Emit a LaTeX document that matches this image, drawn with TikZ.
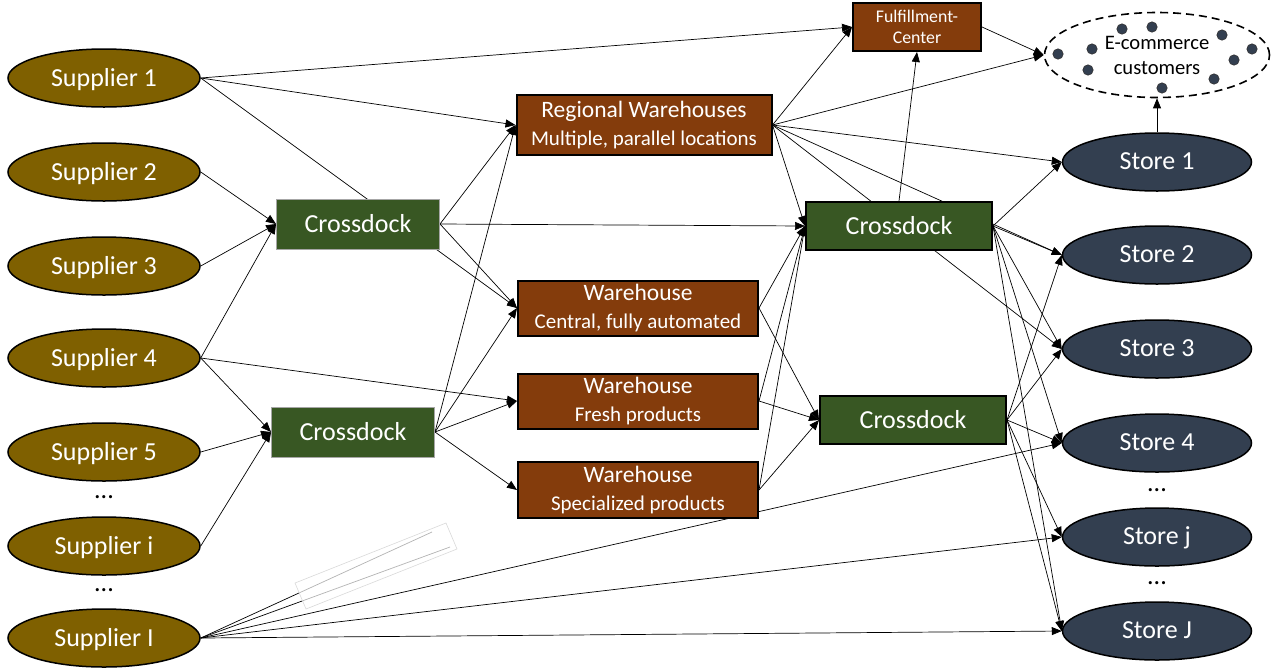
\documentclass[tikz,border=0pt]{standalone}
\usepackage{fontspec}
\setmainfont{Carlito}
\usetikzlibrary{arrows.meta,shapes.geometric,backgrounds}
\definecolor{Supp}{RGB}{127,96,0}
\definecolor{Dock}{RGB}{56,87,35}
\definecolor{Ware}{RGB}{132,60,12}
\definecolor{Shop}{RGB}{51,63,80}
\newcommand{\BigF}{\fontsize{13}{15}\selectfont}
\newcommand{\SubF}{\fontsize{10.5}{13}\selectfont}

\begin{document}
\begin{tikzpicture}[x=0.5pt,y=-0.5pt,
  supplier/.style={ellipse,draw=black,line width=0.75pt,fill=Supp,text=white,
    minimum width=96pt,minimum height=29pt,inner sep=0pt,font=\BigF,text depth=1pt},
  store/.style={supplier,fill=Shop,minimum width=94.5pt},
  dock/.style={rectangle,draw=black,line width=1pt,fill=Dock,text=white,
    minimum width=93pt,minimum height=24pt,inner sep=0pt,font=\BigF},
  leftdock/.style={dock,draw=black!35,line width=0.5pt,minimum width=81.5pt,minimum height=25pt},
  whouse/.style={rectangle,draw=black,line width=1pt,fill=Ware,text=white,align=center,
    minimum width=120pt,minimum height=27.5pt,inner sep=0pt,
    font=\fontsize{11.75}{13}\selectfont},
  etc/.style={font=\BigF,inner sep=0pt},
  flow/.style={-{Triangle[length=5pt,width=4pt]},line width=0.35pt}]
\useasboundingbox (0,0) rectangle (1288,670);

% suppliers
\node[supplier] (s1) at (104,78) {Supplier 1};
\node[supplier] (s2) at (104,172) {Supplier 2};
\node[supplier] (s3) at (104,266) {Supplier 3};
\node[supplier] (s4) at (104,358) {Supplier 4};
\node[supplier] (s5) at (104,452) {Supplier 5};
\node[etc] (sdots1) at (104,497) {...};
\node[supplier] (si) at (104,546) {Supplier i};
\node[etc] (sdots2) at (104,590) {...};
\node[supplier] (sI) at (104,638) {Supplier I};

% first crossdocks
\node[leftdock] (cd1) at (358,224) {Crossdock};
\node[leftdock] (cd2) at (353,432) {Crossdock};

% warehouses
\node[whouse,minimum width=127.5pt,minimum height=30pt] (rw) at (644,125)
  {Regional Warehouses\\[1pt]\SubF Multiple, parallel locations};
\node[whouse] (wc) at (638,308) {Warehouse\\[1pt]\SubF Central, fully automated};
\node[whouse] (wf) at (638,401) {Warehouse\\[1pt]\SubF Fresh products};
\node[whouse,minimum height=28pt] (ws) at (638,490) {Warehouse\\[1pt]\SubF Specialized products};
\node[whouse,minimum width=64pt,minimum height=24pt,font=\fontsize{8.9}{10.5}\selectfont]
  (fc) at (917,27) {Fulfillment-\\Center};

% second crossdocks
\node[dock] (cd3) at (899,226) {Crossdock};
\node[dock] (cd4) at (913,420) {Crossdock};

% stores
\node[store] (st1) at (1157,162) {Store 1};
\node[store] (st2) at (1157,255) {Store 2};
\node[store] (st3) at (1157,349) {Store 3};
\node[store] (st4) at (1157,443) {Store 4};
\node[etc] (tdots1) at (1157,490) {...};
\node[store] (stj) at (1157,537) {Store j};
\node[etc] (tdots2) at (1157,583) {...};
\node[store] (stJ) at (1157,631) {Store J};

% online customers
\node[ellipse,draw=black,line width=0.8pt,dash pattern=on 4pt off 2.5pt,
  minimum width=112.5pt,minimum height=42.5pt,inner sep=0pt,align=center,
  font=\fontsize{10.3}{12.5}\selectfont] (ecom) at (1157,55) {E-commerce\\customers};
\foreach \px/\py in {1058/54,1092/49,1088/70,1122/29,1152/27,1222/35,1252/49,1234/60,1214/79,1162/88}
  \filldraw[fill=Shop,draw=black!80,line width=0.3pt] (\px,\py) circle [radius=2.6pt];

% leftover lines under a pale box
\coordinate (fa) at (432,532);
\coordinate (fb) at (450,547);

\begin{pgfonlayer}{background}
\draw[flow] (s1.east) -- (fc.west);
\draw[flow] (s1.east) -- (rw.west);
\draw[flow] (s1.east) -- (wc.west);
\draw[flow] (s2.east) -- (cd1.west);
\draw[flow] (s3.east) -- (cd1.west);
\draw[flow] (s4.east) -- (cd1.west);
\draw[flow] (s4.east) -- (wf.west);
\draw[flow] (s4.east) -- (cd2.west);
\draw[flow] (s5.east) -- (cd2.west);
\draw[flow] (si.east) -- (cd2.west);
\draw[flow] (sI.east) -- (st4.west);
\draw[flow] (sI.east) -- (stj.west);
\draw[flow] (sI.east) -- (stJ.west);
\draw[line width=0.35pt] (sI.east) -- (fa);
\draw[line width=0.35pt] (sI.east) -- (fb);
\draw[flow] (cd1.east) -- (rw.west);
\draw[flow] (cd1.east) -- (cd3.west);
\draw[flow] (cd1.east) -- (wc.west);
\draw[flow] (cd2.east) -- (rw.west);
\draw[flow] (cd2.east) -- (wc.west);
\draw[flow] (cd2.east) -- (wf.west);
\draw[flow] (cd2.east) -- (ws.west);
\draw[flow] (rw.east) -- (fc.west);
\draw[flow] (rw.east) -- (ecom.west);
\draw[flow] (rw.east) -- (st1.west);
\draw[flow] (rw.east) -- (cd3.west);
\draw[flow] (rw.east) -- (st2.west);
\draw[flow] (rw.east) -- (st3.west);
\draw[flow] (wc.east) -- (cd3.west);
\draw[flow] (wc.east) -- (cd4.west);
\draw[flow] (wf.east) -- (cd3.west);
\draw[flow] (wf.east) -- (cd4.west);
\draw[flow] (ws.east) -- (cd3.west);
\draw[flow] (ws.east) -- (cd4.west);
\draw[flow] (cd3.north) -- (fc.south);
\draw[flow] (cd3.east) -- (st1.west);
\draw[flow] (cd3.east) -- (st2.west);
\draw[flow] (cd3.east) -- (st3.west);
\draw[flow] (cd3.east) -- (st4.west);
\draw[flow] (cd3.east) -- (stJ.west);
\draw[flow] (cd4.east) -- (st2.west);
\draw[flow] (cd4.east) -- (st3.west);
\draw[flow] (cd4.east) -- (st4.west);
\draw[flow] (cd4.east) -- (stj.west);
\draw[flow] (cd4.east) -- (stJ.west);
\draw[flow] (fc.east) -- (ecom.west);
\draw[flow] (st1.north) -- (ecom.south);
\end{pgfonlayer}

% pale box
\filldraw[fill=white,fill opacity=0.7,draw=black!15,line width=0.3pt]
  (295,583) -- (446,523) -- (457,549) -- (306,609) -- cycle;
\end{tikzpicture}
\end{document}
